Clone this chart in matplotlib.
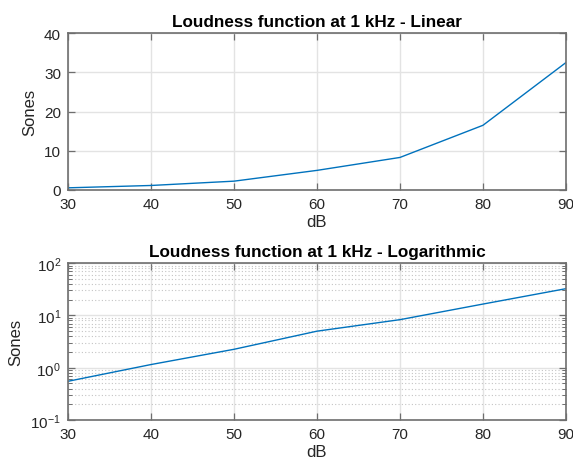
import numpy as np
import matplotlib
matplotlib.use('agg')
import matplotlib.pyplot as plt
from matplotlib.ticker import LogLocator, NullFormatter, NullLocator

# loudness at 1 kHz
db_levels = [30, 40, 50, 60, 70, 80, 90]
sones = [0.55, 1.15, 2.25, 5.0, 8.3, 16.5, 32.5]

plt.rcParams['font.family'] = ['Liberation Sans', 'DejaVu Sans']
plt.rcParams['mathtext.default'] = 'regular'

line_color = '#0072BD'
text_color = '#262626'
spine_color = '#6e6e6e'


def style_axes(ax):
    for sp in ax.spines.values():
        sp.set_color(spine_color)
        sp.set_linewidth(1.2)
    ax.tick_params(which='both', direction='in', top=True, right=True,
                   colors=spine_color, labelcolor=text_color, labelsize=11)
    ax.tick_params(which='major', length=5, width=0.9, pad=5)
    ax.tick_params(which='minor', length=3, width=0.7)
    ax.grid(True, which='major', color='#e3e3e3', linewidth=1.0)
    ax.set_axisbelow(True)
    ax.set_xlim(30, 90)
    ax.set_xticks(db_levels)
    ax.set_xlabel('dB', fontsize=12, color=text_color, labelpad=2)
    ax.set_ylabel('Sones', fontsize=12, color=text_color, labelpad=5)


fig = plt.figure(figsize=(5.73, 4.64), dpi=100)

# linear panel
ax1 = fig.add_axes([0.1187, 0.5884, 0.869, 0.338])
ax1.plot(db_levels, sones, color=line_color, lw=1.0)
style_axes(ax1)
ax1.set_ylim(0, 40)
ax1.set_yticks([0, 10, 20, 30, 40])
ax1.set_title('Loudness function at 1 kHz - Linear', fontsize=12.3,
              fontweight='bold', color='black', pad=5)

# log panel
ax2 = fig.add_axes([0.1187, 0.0927, 0.869, 0.338])
ax2.semilogy(db_levels, sones, color=line_color, lw=1.0)
style_axes(ax2)
ax2.set_ylim(0.1, 100)
ax2.yaxis.set_major_locator(LogLocator(base=10, numticks=10))
ax2.yaxis.set_minor_locator(LogLocator(base=10, subs=np.arange(2, 10), numticks=10))
ax2.yaxis.set_minor_formatter(NullFormatter())
ax2.xaxis.set_minor_locator(NullLocator())
ax2.grid(True, which='minor', axis='y', color='#c4c4c4', linestyle=(0, (1, 2)), linewidth=0.8)
ax2.set_title('Loudness function at 1 kHz - Logarithmic', fontsize=12.3,
              fontweight='bold', color='black', pad=5)

plt.savefig('out.png', dpi=100)
